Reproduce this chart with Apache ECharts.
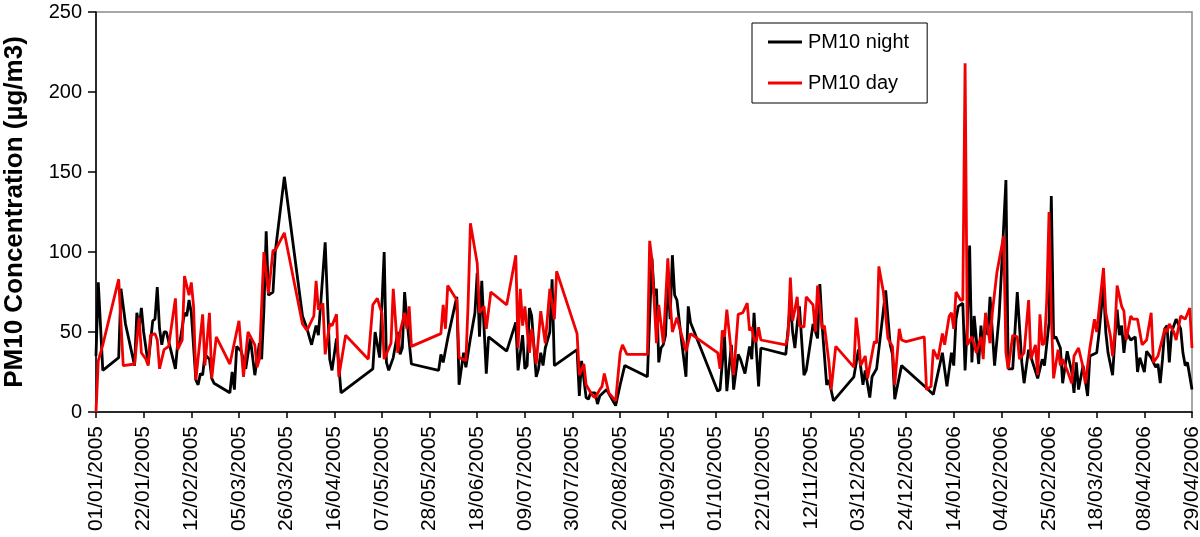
<!DOCTYPE html>
<html>
<head>
<meta charset="utf-8">
<script src="https://cdn.jsdelivr.net/npm/echarts@6/dist/echarts.min.js"></script>
<style>
  html, body { margin: 0; padding: 0; background: #fff; }
  #chart { width: 1200px; height: 537px; }
</style>
</head>
<body>
<div id="chart"></div>
<script>
// days counted from 01/01/2005
const startDate = Date.UTC(2005, 0, 1);
const tickStep = 21;
const lastDay = 483;

const nightDays = [0, 1, 3, 10, 11, 13, 17, 18, 19, 20, 21, 23, 25, 26, 27, 28, 29, 30, 31, 35, 36, 37, 39, 40, 41, 42, 44, 45, 46, 47, 48, 50, 51, 52,
  59, 60, 61, 62, 64, 66, 68, 70, 72, 73, 74, 75, 76, 78, 79, 83, 91, 93, 95, 97, 98, 101, 103, 104, 106, 108,
  122, 123, 125, 127, 128, 129, 131, 133, 134, 135, 136, 137, 139, 151, 152, 153, 155, 159, 160, 162, 163, 165, 167, 168, 169, 170, 172, 173,
  181, 185, 186, 188, 189, 190, 191, 192, 194, 195, 196, 197, 198, 200, 201, 202, 212, 213, 214, 216, 217, 218, 220, 221, 222, 225, 229, 231, 233,
  243, 245, 246, 247, 248, 249, 250, 251, 252, 253, 254, 255, 256, 258, 260, 261, 262, 274, 275, 277, 278, 280, 281, 283, 284, 286, 288, 289, 290, 291, 292, 293,
  304, 306, 307, 308, 309, 310, 312, 313, 315, 316, 318, 319, 320, 322, 323, 325, 334, 336, 338, 339, 341, 342, 344, 348, 350, 351, 352, 355,
  366, 369, 373, 375, 377, 378, 379, 380, 382, 383, 384, 385, 386, 387, 388, 389, 390, 391, 392, 393, 394, 396, 398, 399, 401, 402, 404, 406, 408, 409, 411, 413, 415, 417,
  418, 420, 421, 422, 423, 425, 426, 428, 430, 431, 432, 433, 435, 437, 438, 441, 442, 444, 445, 446, 448, 449, 450, 451, 452, 453, 454, 456, 458, 459, 460, 462, 463, 465, 467, 468, 469, 470, 471, 472, 473, 474, 476, 478, 479, 480, 481, 483];
const nightPM10 = [35, 81, 26, 34, 77, 55, 29, 62, 52, 65, 50, 30, 57, 58, 78, 52, 42, 50, 50, 27, 43, 44, 62, 60, 70, 62, 20, 17, 24, 23, 36, 33, 21, 18,
  12, 25, 14, 41, 38, 27, 46, 23, 43, 33, 64, 113, 73, 75, 100, 147, 60, 52, 42, 54, 48, 106, 33, 26, 46, 12,
  27, 50, 34, 100, 31, 26, 34, 50, 36, 40, 75, 58, 30, 26, 36, 31, 46, 72, 17, 37, 28, 46, 62, 87, 47, 82, 24, 47,
  38, 56, 26, 48, 27, 29, 65, 60, 22, 27, 37, 29, 40, 50, 83, 29, 39, 10, 32, 9, 8, 12, 12, 5, 10, 14, 4, 17, 29,
  22, 96, 73, 77, 31, 40, 42, 48, 85, 58, 98, 73, 70, 45, 22, 66, 56, 13, 14, 47, 13, 42, 14, 36, 33, 24, 41, 33, 62, 39, 16, 40,
  36, 68, 50, 40, 55, 66, 23, 26, 45, 55, 46, 80, 54, 17, 20, 7, 22, 39, 17, 26, 9, 22, 27, 76, 42, 36, 8, 29,
  15, 11, 37, 16, 37, 29, 58, 66, 68, 26, 55, 104, 31, 60, 45, 30, 54, 37, 60, 48, 72, 29, 60, 87, 145, 27, 27, 75, 31, 18, 39, 30, 21, 33,
  29, 56, 135, 46, 47, 40, 18, 38, 25, 12, 31, 14, 29, 10, 35, 37, 49, 79, 50, 37, 23, 45, 64, 48, 54, 37, 50, 45, 47, 25, 34, 25, 38, 34, 28, 30, 18, 33, 52, 54, 31, 50, 58, 52, 37, 29, 31, 14];

const dayDays = [0, 1, 3, 10, 12, 17, 19, 20, 22, 23, 24, 26, 27, 28, 30, 32, 35, 36, 38, 39, 41, 42, 43, 44, 47, 48, 50, 51, 53,
  59, 63, 65, 67, 70, 71, 72, 74, 76, 78, 79, 83, 91, 93, 96, 97, 98, 100, 101, 103, 104, 106, 107, 110,
  120, 122, 124, 125, 126, 127, 130, 131, 133, 134, 136, 137, 138, 139, 152, 153, 154, 155, 159, 160, 163, 164, 165, 168, 169, 171, 172, 174,
  181, 185, 186, 187, 188, 189, 191, 192, 194, 196, 198, 200, 202, 203, 212, 213, 215, 216, 218, 219, 220, 222, 223, 224, 226, 229, 231, 232, 234,
  243, 244, 245, 247, 248, 250, 252, 253, 254, 256, 260, 262, 274, 275, 276, 277, 278, 281, 283, 285, 287, 288, 289, 290, 291, 292, 293,
  304, 305, 306, 307, 308, 309, 310, 312, 313, 316, 317, 318, 320, 321, 323, 324, 326, 334, 335, 336, 337, 339, 340, 343, 344, 345, 347, 349, 351, 352, 354, 355, 357,
  365, 366, 368, 369, 371, 373, 374, 376, 377, 378, 379, 381, 382, 383, 384, 386, 388, 390, 391, 392, 394, 395, 397, 400, 401, 402, 404, 406, 407, 409, 411, 412, 414, 415, 416, 417, 418, 419,
  420, 421, 422, 424, 425, 426, 428, 430, 431, 433, 435, 436, 438, 440, 441, 444, 445, 447, 448, 449, 450, 452, 453, 454, 456, 457, 459, 460, 461, 463, 465, 466, 468, 470, 471, 472, 473, 475, 476, 478, 480, 482, 483];
const dayPM10 = [0, 32, 42, 83, 29, 30, 59, 37, 33, 29, 48, 49, 45, 27, 39, 41, 71, 39, 45, 85, 73, 81, 66, 20, 61, 29, 62, 21, 47,
  30, 57, 22, 50, 42, 28, 33, 100, 74, 101, 101, 112, 55, 51, 60, 82, 64, 68, 36, 55, 54, 61, 22, 48,
  33, 67, 71, 66, 62, 33, 43, 77, 37, 50, 62, 52, 66, 41, 49, 67, 52, 79, 70, 34, 32, 68, 118, 93, 62, 66, 52, 75,
  67, 98, 40, 77, 54, 66, 37, 52, 30, 63, 43, 77, 58, 88, 49, 23, 30, 17, 12, 10, 9, 14, 16, 24, 12, 7, 37, 42, 36,
  36, 107, 95, 43, 67, 43, 96, 70, 50, 59, 38, 49, 37, 27, 51, 47, 64, 23, 61, 62, 68, 51, 53, 45, 44, 53, 45,
  42, 48, 84, 57, 64, 72, 54, 53, 72, 67, 50, 79, 52, 54, 31, 14, 41, 28, 59, 47, 29, 35, 21, 44, 43, 91, 75, 46, 41, 17, 52, 45, 44,
  47, 14, 16, 39, 33, 49, 42, 60, 62, 52, 75, 70, 70, 218, 42, 47, 37, 47, 33, 62, 43, 62, 87, 110, 37, 27, 48, 47, 33, 37, 70, 33, 42, 23, 61, 42, 43, 70,
  125, 60, 21, 39, 29, 33, 26, 18, 35, 40, 28, 18, 40, 58, 50, 90, 62, 48, 35, 50, 79, 66, 63, 45, 60, 58, 58, 50, 42, 45, 62, 31, 35, 46, 52, 50, 55, 50, 45, 60, 58, 65, 40];

const yMin = 0, yMax = 250, yStep = 50;

const pairs = (xs, ys) => xs.map((d, i) => [d, ys[i]]);
const pad = n => (n < 10 ? '0' : '') + n;
const dayLabel = d => {
  const t = new Date(startDate + d * 86400000);
  return pad(t.getUTCDate()) + '/' + pad(t.getUTCMonth() + 1) + '/' + t.getUTCFullYear();
};

const font = '"Liberation Sans", Arial, sans-serif';
const chart = echarts.init(document.getElementById('chart'), null, { renderer: 'canvas' });

chart.setOption({
  animation: false,
  backgroundColor: '#fff',
  grid: {
    left: 96, right: 8, top: 12, bottom: 125,
    outerBoundsMode: 'none', containLabel: false,
    show: true, borderColor: '#8a8a8a', borderWidth: 1.5, backgroundColor: 'transparent'
  },
  legend: {
    orient: 'vertical',
    left: 752, top: 23,
    padding: [9, 18, 10, 16],
    itemWidth: 34, itemHeight: 3,
    itemGap: 21,
    borderColor: '#000', borderWidth: 1,
    icon: 'rect',
    textStyle: { fontFamily: font, fontSize: 20, color: '#000', padding: [0, 0, 0, 1] },
    data: ['PM10 night', 'PM10 day']
  },
  xAxis: {
    type: 'value',
    min: 0, max: lastDay, interval: tickStep,
    splitLine: { show: false },
    axisLine: { lineStyle: { color: '#000', width: 1.5 } },
    axisTick: { length: 6, lineStyle: { color: '#000', width: 1.5 } },
    axisLabel: {
      rotate: 90, margin: 14, showMaxLabel: true, showMinLabel: true,
      fontFamily: font, fontSize: 21, color: '#000',
      formatter: v => dayLabel(v)
    }
  },
  yAxis: {
    type: 'value',
    min: yMin, max: yMax, interval: yStep,
    name: 'PM10 Concentration (\u00b5g/m3)',
    nameLocation: 'middle', nameGap: 68, nameRotate: 90,
    nameTextStyle: { fontFamily: font, fontSize: 26, fontWeight: 'bold', color: '#000' },
    splitLine: { show: false },
    axisLine: { show: true, lineStyle: { color: '#000', width: 1.5 } },
    axisTick: { show: true, length: 8, lineStyle: { color: '#000', width: 1.5 } },
    axisLabel: { margin: 14, fontFamily: font, fontSize: 20, color: '#000' }
  },
  series: [
    {
      name: 'PM10 night', type: 'line', data: pairs(nightDays, nightPM10),
      showSymbol: false, symbol: 'none',
      lineStyle: { color: '#000', width: 2.8 }, itemStyle: { color: '#000' }
    },
    {
      name: 'PM10 day', type: 'line', data: pairs(dayDays, dayPM10),
      showSymbol: false, symbol: 'none',
      lineStyle: { color: '#f00000', width: 2.8 }, itemStyle: { color: '#f00000' }
    }
  ]
});
</script>
</body>
</html>
